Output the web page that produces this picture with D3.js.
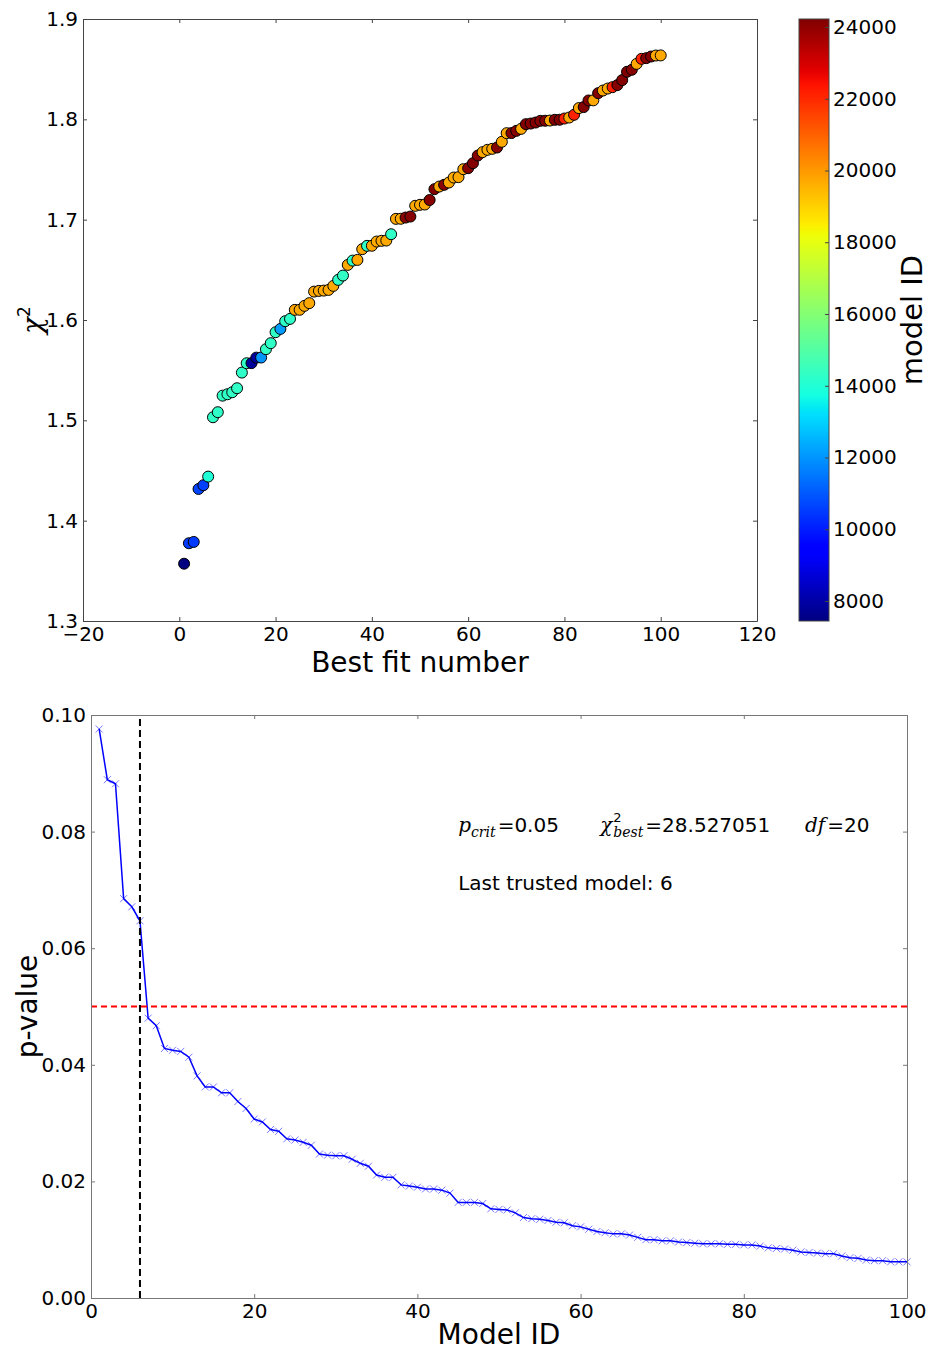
<!DOCTYPE html>
<html><head><meta charset="utf-8">
<script src="https://cdn.jsdelivr.net/npm/d3@7"></script>
<style>body{margin:0;background:#fff} svg{display:block} text{font-family:"DejaVu Sans",sans-serif}</style>
</head><body><svg id="c" width="928" height="1352"></svg>
<script>
// ---------- DATA ----------
const bestFitNumber = d3.range(1, 101);
const chi2 = [
1.3571,1.3775,1.3788,1.4316,1.4353,1.4439,1.5031,1.5081,1.5246,1.5260,
1.5280,1.5320,1.5476,1.5569,1.5570,1.5625,1.5626,1.5709,1.5769,1.5878,
1.5911,1.5988,1.6011,1.6101,1.6102,1.6141,1.6168,1.6283,1.6290,1.6293,
1.6300,1.6340,1.6400,1.6443,1.6549,1.6592,1.6599,1.6706,1.6739,1.6740,
1.6782,1.6789,1.6792,1.6855,1.7008,1.7009,1.7021,1.7031,1.7138,1.7148,
1.7151,1.7196,1.7304,1.7330,1.7347,1.7370,1.7420,1.7424,1.7503,1.7513,
1.7563,1.7639,1.7673,1.7696,1.7706,1.7719,1.7776,1.7862,1.7863,1.7885,
1.7905,1.7952,1.7958,1.7968,1.7985,1.7986,1.7988,1.7995,1.7996,1.8008,
1.8018,1.8045,1.8112,1.8122,1.8188,1.8189,1.8261,1.8287,1.8307,1.8321,
1.8341,1.8391,1.8474,1.8494,1.8553,1.8603,1.8610,1.8626,1.8636,1.8637];
const modelIds = [
7443,10512,10498,10655,10590,13980,14310,14285,14302,14296,
14320,14288,14275,14301,7820,7905,11980,14312,14290,14305,
12115,14298,14280,19720,19705,19688,19731,19712,19699,19725,
19708,19690,14295,14308,19716,14284,19702,19728,14299,19710,
19695,19722,19706,14291,19714,19700,24105,24150,19718,19703,
19727,24120,24180,19709,24095,19721,19697,19713,19704,24130,
24160,24110,19719,19701,19726,24140,19711,19698,24170,24115,
19723,24190,24125,24155,24100,24145,19707,24135,24165,22150,
19715,22120,19724,24175,24118,19702,24185,19717,19709,22135,
24128,24158,24223,24108,19720,22140,24148,24168,19712,19705];
const modelIdAxis = d3.range(1, 101);
const pValues = [
0.0976,0.0889,0.0882,0.0685,0.0671,0.0647,0.0480,0.0467,0.0428,0.0425,
0.0423,0.0413,0.0381,0.0362,0.0362,0.0352,0.0352,0.0337,0.0325,0.0307,
0.0302,0.0289,0.0286,0.0273,0.0271,0.0267,0.0262,0.0247,0.0245,0.0244,
0.0244,0.0238,0.0231,0.0226,0.0211,0.0207,0.0207,0.0194,0.0192,0.0190,
0.0187,0.0187,0.0185,0.0180,0.0164,0.0164,0.0164,0.0162,0.0153,0.0152,
0.0151,0.0146,0.0138,0.0136,0.0135,0.0133,0.0130,0.0129,0.0124,0.0122,
0.0118,0.0114,0.0112,0.0110,0.0110,0.0108,0.0104,0.0100,0.0100,0.0098,
0.0098,0.0096,0.0095,0.0094,0.0093,0.0093,0.0093,0.0092,0.0092,0.0091,
0.0091,0.0089,0.0086,0.0085,0.0084,0.0082,0.0079,0.0078,0.0077,0.0076,
0.0076,0.0072,0.0069,0.0068,0.0065,0.0064,0.0064,0.0062,0.0062,0.0062];
const topXTicks = [-20, 0, 20, 40, 60, 80, 100, 120];
const topYTicks = [1.3, 1.4, 1.5, 1.6, 1.7, 1.8, 1.9];
const cbTicks = [8000, 10000, 12000, 14000, 16000, 18000, 20000, 22000, 24000];
const botXTicks = [0, 20, 40, 60, 80, 100];
const botYTicks = [0, 0.02, 0.04, 0.06, 0.08, 0.10];
const pCrit = 0.05, chi2Best = "28.527051", dof = 20, lastTrusted = 6;

// ---------- SETUP ----------
const svg = d3.select("#c");
const TICK_FS = 20, LABEL_FS = 28;

const jetR = d3.scaleLinear().domain([0, 0.35, 0.66, 0.89, 1]).range([0, 0, 1, 1, 0.5]).clamp(true);
const jetG = d3.scaleLinear().domain([0, 0.125, 0.375, 0.64, 0.91, 1]).range([0, 0, 1, 1, 0, 0]).clamp(true);
const jetB = d3.scaleLinear().domain([0, 0.11, 0.34, 0.65, 1]).range([0.5, 1, 1, 0, 0]).clamp(true);
const jet = t => d3.rgb(255 * jetR(t), 255 * jetG(t), 255 * jetB(t)).toString();
const idExtent = d3.extent(modelIds);
const cNorm = d3.scaleLinear().domain(idExtent).range([0, 1]);

function box(g, x, y, xt, yt, xf, yf, spine) {
  const [x0, x1] = x.range(), [y0, y1] = y.range();
  const axes = [
    g.append("g").attr("transform", `translate(0,${y0})`)
      .call(d3.axisBottom(x).tickValues(xt).tickFormat(xf).tickSizeInner(-4).tickSizeOuter(0).tickPadding(6)),
    g.append("g").attr("transform", `translate(0,${y1})`)
      .call(d3.axisTop(x).tickValues(xt).tickFormat("").tickSizeInner(-4).tickSizeOuter(0)),
    g.append("g").attr("transform", `translate(${x0},0)`)
      .call(d3.axisLeft(y).tickValues(yt).tickFormat(yf).tickSizeInner(-4).tickSizeOuter(0).tickPadding(5)),
    g.append("g").attr("transform", `translate(${x1},0)`)
      .call(d3.axisRight(y).tickValues(yt).tickFormat("").tickSizeInner(-4).tickSizeOuter(0))
  ];
  axes.forEach(a => {
    a.attr("font-size", null).attr("font-family", null);
    a.select(".domain").attr("stroke", spine).attr("stroke-width", 1);
    a.selectAll(".tick line").attr("stroke", spine);
    a.selectAll(".tick text").attr("fill", "#000").style("font-size", TICK_FS + "px");
  });
}

// ---------- TOP CHART ----------
const xT = d3.scaleLinear().domain([-20, 120]).range([83, 757]);
const yT = d3.scaleLinear().domain([1.3, 1.9]).range([621, 19]);
const gT = svg.append("g");

gT.append("g").selectAll("circle").data(bestFitNumber).join("circle")
  .attr("cx", (d) => xT(d))
  .attr("cy", (d, i) => yT(chi2[i]))
  .attr("r", 5.5)
  .attr("fill", (d, i) => jet(cNorm(modelIds[i])))
  .attr("stroke", "#000").attr("stroke-width", 1);

box(gT, xT, yT, topXTicks, topYTicks, d3.format("d"), d3.format(".1f"), "#444");

gT.append("text").attr("x", (xT.range()[0] + xT.range()[1]) / 2).attr("y", 672)
  .attr("text-anchor", "middle").style("font-size", LABEL_FS + "px").text("Best fit number");

const chiLab = gT.append("text").attr("transform", `translate(42,${(yT.range()[0] + yT.range()[1]) / 2}) rotate(-90)`)
  .attr("text-anchor", "middle");
chiLab.append("tspan").style("font-family", "DejaVu Serif").style("font-style", "italic").style("font-size", "28px").text("χ");
chiLab.append("tspan").attr("dy", -12).style("font-size", "17px").text("2");

// Colorbar
const yCb = d3.scaleLinear().domain(idExtent).range([621, 19]);
const cbX0 = 799, cbW = 30;
const grad = svg.append("defs").append("linearGradient").attr("id", "jetgrad")
  .attr("x1", 0).attr("y1", 1).attr("x2", 0).attr("y2", 0);
grad.selectAll("stop").data(d3.range(0, 1.0001, 1 / 128)).join("stop")
  .attr("offset", d => d).attr("stop-color", d => jet(d));
svg.append("rect").attr("x", cbX0).attr("y", yCb.range()[1]).attr("width", cbW)
  .attr("height", yCb.range()[0] - yCb.range()[1]).attr("fill", "url(#jetgrad)")
  .attr("stroke", "#444").attr("stroke-width", 1);
const cbAx = svg.append("g").attr("transform", `translate(${cbX0 + cbW},0)`)
  .call(d3.axisRight(yCb).tickValues(cbTicks).tickFormat(d3.format("d")).tickSizeInner(-4).tickSizeOuter(0).tickPadding(4));
cbAx.attr("font-size", null).attr("font-family", null);
cbAx.select(".domain").remove();
cbAx.selectAll(".tick line").attr("stroke", "#444");
cbAx.selectAll(".tick text").attr("fill", "#000").style("font-size", TICK_FS + "px");
svg.append("text").attr("transform", `translate(922,${(yCb.range()[0] + yCb.range()[1]) / 2}) rotate(-90)`)
  .attr("text-anchor", "middle").style("font-size", "29px").text("model ID");

// ---------- BOTTOM CHART ----------
const xB = d3.scaleLinear().domain([0, 100]).range([91, 907]);
const yB = d3.scaleLinear().domain([0, 0.10]).range([1298, 715]);
const gB = svg.append("g");

// markers
const mk = 3.5;
gB.append("g").selectAll("path").data(modelIdAxis).join("path")
  .attr("d", (d, i) => {
    const cx = xB(d), cy = yB(pValues[i]);
    return `M${cx - mk},${cy - mk}L${cx + mk},${cy + mk}M${cx - mk},${cy + mk}L${cx + mk},${cy - mk}`;
  })
  .attr("stroke", "#7a7aff").attr("stroke-width", 1).attr("fill", "none");

gB.append("path").datum(modelIdAxis)
  .attr("d", d3.line().x(d => xB(d)).y((d, i) => yB(pValues[i])))
  .attr("fill", "none").attr("stroke", "#0000ff").attr("stroke-width", 1.5);

// critical lines
gB.append("line").attr("x1", xB.range()[0]).attr("x2", xB.range()[1])
  .attr("y1", yB(pCrit)).attr("y2", yB(pCrit))
  .attr("stroke", "#ff0000").attr("stroke-width", 2).attr("stroke-dasharray", "6,4");
gB.append("line").attr("x1", xB(lastTrusted)).attr("x2", xB(lastTrusted))
  .attr("y1", yB.range()[0]).attr("y2", yB.range()[1])
  .attr("stroke", "#000").attr("stroke-width", 2).attr("stroke-dasharray", "7,4");

box(gB, xB, yB, botXTicks, botYTicks, d3.format("d"), d3.format(".2f"), "#777");

gB.append("text").attr("x", (xB.range()[0] + xB.range()[1]) / 2).attr("y", 1344)
  .attr("text-anchor", "middle").style("font-size", LABEL_FS + "px").text("Model ID");
gB.append("text").attr("transform", `translate(37,${(yB.range()[0] + yB.range()[1]) / 2}) rotate(-90)`)
  .attr("text-anchor", "middle").style("font-size", LABEL_FS + "px").text("p-value");

// annotations
const serifIt = s => s.style("font-family", "DejaVu Serif").style("font-style", "italic");
function piece(x, y, txt, fs, italic) {
  const t = gB.append("text").attr("x", x).attr("y", y).style("font-size", fs + "px").text(txt);
  if (italic) serifIt(t);
  return t.node().getComputedTextLength();
}
const yA = yB(0.08);
let xa = xB(45);
xa += piece(xa, yA, "p", 20, true);
xa += piece(xa, yA + 5, "crit", 14, true) + 2;
piece(xa, yA, "=" + d3.format(".2f")(pCrit), 20, false);

xa = xB(62.4);
xa += piece(xa, yA, "χ", 20, true) + 1;
const supW = piece(xa, yA - 10, "2", 13, false);
const subW = piece(xa, yA + 5, "best", 14, true);
xa += Math.max(supW, subW) + 2;
piece(xa, yA, "=" + chi2Best, 20, false);

xa = xB(87.5);
xa += piece(xa, yA, "df", 20, true) + 2;
piece(xa, yA, "=" + dof, 20, false);

piece(xB(45), yB(0.07), "Last trusted model: " + lastTrusted, 20, false);
</script>
</body></html>
